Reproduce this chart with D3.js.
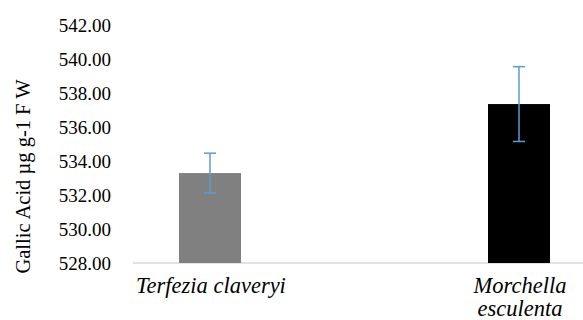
<!DOCTYPE html>
<html><head><meta charset="utf-8">
<script src="https://d3js.org/d3.v7.min.js"></script>
<style>body{margin:0;background:#fff}svg{display:block}</style>
</head><body>
<script>
const categories = ["Terfezia claveryi", "Morchella esculenta"];
const categoryLines = [["Terfezia claveryi"], ["Morchella", "esculenta"]];
const values = [533.29, 537.35];
const errors = [1.17, 2.2];
const barColors = ["#808080", "#000000"];
const yTicks = [528, 530, 532, 534, 536, 538, 540, 542];

const FONT = '"Liberation Serif"';
const W = 583, H = 320;
const svg = d3.select("body").append("svg").attr("width", W).attr("height", H);

const y = d3.scaleLinear().domain([528, 542]).range([263, 25]);
const x = d3.scalePoint().domain(categories).range([210, 519]);
const barW = 62;

// axis line
svg.append("line").attr("x1", 133).attr("x2", 583).attr("y1", y(528)).attr("y2", y(528))
  .attr("stroke", "#d9d9d9").attr("stroke-width", 1.5);

// y tick labels
const yAxis = d3.axisLeft(y).tickValues(yTicks).tickFormat(d3.format(".2f")).tickSize(0).tickPadding(0);
const ya = svg.append("g").attr("transform", "translate(111,0)").call(yAxis);
ya.select(".domain").remove();
ya.attr("font-family", null).attr("font-size", null);
ya.selectAll("text").style("font-family", FONT)
  .style("font-size", "19px").attr("fill", "#000").attr("dy", "0.35em");

// bars
svg.selectAll("rect.bar").data(categories).enter().append("rect")
  .attr("x", d => x(d) - barW / 2)
  .attr("y", (d, i) => y(values[i]))
  .attr("width", barW)
  .attr("height", (d, i) => y(528) - y(values[i]))
  .attr("fill", (d, i) => barColors[i]);

// error bars
const eb = svg.selectAll("g.eb").data(categories).enter().append("g")
  .attr("stroke", "#5b9bd5").attr("stroke-width", 1.5);
eb.append("line").attr("x1", d => x(d)).attr("x2", d => x(d))
  .attr("y1", (d, i) => y(values[i] + errors[i])).attr("y2", (d, i) => y(values[i] - errors[i]));
eb.append("line").attr("x1", d => x(d) - 6).attr("x2", d => x(d) + 6)
  .attr("y1", (d, i) => y(values[i] + errors[i])).attr("y2", (d, i) => y(values[i] + errors[i]));
eb.append("line").attr("x1", d => x(d) - 6).attr("x2", d => x(d) + 6)
  .attr("y1", (d, i) => y(values[i] - errors[i])).attr("y2", (d, i) => y(values[i] - errors[i]));

// category labels
categories.forEach((c, i) => {
  const t = svg.append("text").attr("text-anchor", "middle")
    .style("font-family", FONT)
    .style("font-style", "italic").style("font-size", "22.5px").attr("fill", "#000");
  categoryLines[i].forEach((ln, j) => {
    t.append("tspan").attr("x", x(c) + 1).attr("y", 293 + j * 23).text(ln);
  });
});

// y title
svg.append("text").attr("transform", "translate(30,176.5) rotate(-90)")
  .attr("text-anchor", "middle")
  .style("font-family", FONT)
  .style("font-size", "20.5px").attr("fill", "#000")
  .text("Gallic Acid µg g-1 F W");
</script>
</body></html>
